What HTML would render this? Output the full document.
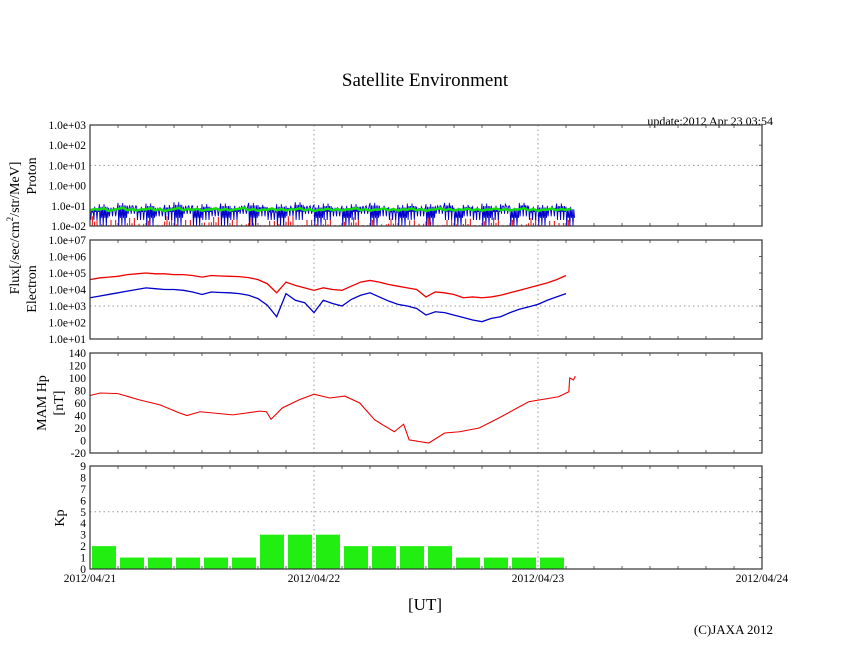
<!DOCTYPE html>
<html><head><meta charset="utf-8"><style>
body{margin:0;background:#fff;}
svg{display:block;font-family:"Liberation Serif",serif;}
</style></head><body>
<svg id="c" width="846" height="655" viewBox="0 0 846 655">
<text x="425" y="86" font-size="19" text-anchor="middle">Satellite Environment</text>
<text x="773" y="125" font-size="12" text-anchor="end">update:2012 Apr 23 03:54</text>
<text transform="translate(19,228) rotate(-90)" font-size="14" text-anchor="middle">Flux[/sec/cm<tspan font-size="9" dy="-6">2</tspan><tspan dy="6">/str/MeV]</tspan></text>
<text transform="translate(36,176) rotate(-90)" font-size="14" text-anchor="middle">Proton</text>
<text transform="translate(36,289) rotate(-90)" font-size="14" text-anchor="middle">Electron</text>
<text transform="translate(46,403) rotate(-90)" font-size="14" text-anchor="middle">MAM Hp</text>
<text transform="translate(63,403) rotate(-90)" font-size="14" text-anchor="middle">[nT]</text>
<text transform="translate(64,518) rotate(-90)" font-size="14" text-anchor="middle">Kp</text>
<text x="425" y="610" font-size="17" text-anchor="middle">[UT]</text>
<text x="773" y="634" font-size="13" text-anchor="end">(C)JAXA 2012</text>
<g id="g"></g>
</svg>
<script>
const dayLabels=["2012/04/21","2012/04/22","2012/04/23","2012/04/24"];
const protonTicks=["1.0e-02","1.0e-01","1.0e+00","1.0e+01","1.0e+02","1.0e+03"];
const electronTicks=["1.0e+01","1.0e+02","1.0e+03","1.0e+04","1.0e+05","1.0e+06","1.0e+07"];
const hpTicks=[-20,0,20,40,60,80,100,120,140];
const kpTicks=[0,1,2,3,4,5,6,7,8,9];
const kpVals=[2,1,1,1,1,1,3,3,3,2,2,2,2,1,1,1,1];
const elecRed=[4.6,4.7,4.75,4.8,4.9,4.95,5.0,4.95,4.95,4.9,4.9,4.85,4.75,4.85,4.82,4.8,4.78,4.72,4.6,4.35,3.8,4.45,4.25,4.1,3.95,4.1,4.0,3.95,4.2,4.45,4.55,4.45,4.3,4.2,4.1,4.0,3.55,3.85,3.8,3.7,3.5,3.55,3.5,3.55,3.65,3.8,3.95,4.1,4.25,4.4,4.6,4.85];
const elecBlue=[3.5,3.6,3.7,3.8,3.9,4.0,4.1,4.05,4.0,4.0,3.95,3.85,3.7,3.85,3.82,3.8,3.75,3.65,3.45,3.05,2.35,3.75,3.35,3.2,2.6,3.35,3.15,3.0,3.4,3.65,3.8,3.55,3.3,3.1,3.0,2.85,2.45,2.65,2.6,2.45,2.3,2.15,2.05,2.25,2.35,2.6,2.8,2.95,3.1,3.35,3.55,3.75];
const hpHours=[0,1.1,3,5.3,7.5,9.6,10.4,11.8,15.3,18.2,18.9,19.4,20.6,22.4,24,25.7,27.3,28.9,30.5,32.6,33.6,34.2,36.3,38,39.6,41.7,43.8,47,50.2,51.3,51.4,51.8,52];
const hpVals=[72,76,75,65,57,44,40,46,41,47,46,34,52,65,74,68,71,60,33,14,26,1,-4,12,14,20,36,62,70,78,100,97,103];
const protonBlueHigh=[0.09,0.12,0.08,0.14,0.1,0.09,0.13,0.08,0.11,0.15,0.09,0.1,0.12,0.08,0.13,0.1,0.09,0.14,0.11,0.08,0.12,0.1,0.15,0.09,0.11,0.13,0.08,0.1,0.12,0.09,0.14,0.1,0.08,0.11,0.13,0.09,0.12,0.1,0.14,0.08,0.11,0.09,0.13,0.1,0.12,0.08,0.14,0.09,0.11,0.1,0.13,0.09];
const protonBlueLow=[0.02,0.01,0.03,0.01,0.04,0.02,0.01,0.03,0.02,0.01,0.04,0.01,0.02,0.03,0.01,0.02,0.04,0.01,0.03,0.02,0.01,0.03,0.02,0.04,0.01,0.02,0.03,0.01,0.02,0.04,0.01,0.03,0.02,0.01,0.02,0.03,0.01,0.04,0.02,0.01,0.03,0.02,0.01,0.02,0.04,0.01,0.03,0.02,0.01,0.03,0.02,0.01];
const protonGreen=[0.06,0.065,0.055,0.07,0.06,0.058,0.066,0.06,0.055,0.068,0.06,0.062,0.057,0.065,0.06,0.058,0.07,0.06,0.056,0.064,0.06,0.058,0.066,0.06,0.055,0.063,0.06,0.058,0.067,0.06,0.057,0.065,0.06,0.058,0.064,0.06,0.056,0.066,0.06,0.058,0.063,0.06,0.057,0.065,0.06,0.058,0.066,0.06,0.056,0.064,0.06,0.062];
const protonRed=[0.03,0.012,0.02,0.011,0.025,0.013,0.018,0.011,0.03,0.012,0.02,0.011,0.015,0.028,0.011,0.02,0.012,0.025,0.011,0.018,0.013,0.03,0.011,0.02,0.012,0.022,0.011,0.016,0.027,0.011,0.02,0.012,0.024,0.011,0.019,0.013,0.03,0.011,0.02,0.012,0.023,0.011,0.017,0.026,0.011,0.02,0.012,0.025,0.011,0.018,0.014,0.02];

const NS="http://www.w3.org/2000/svg";
const G=document.getElementById('g');
const X0=90,X1=762;
const xH=h=>X0+h*(X1-X0)/72;
function el(t,a,p){const e=document.createElementNS(NS,t);for(const k in a)e.setAttribute(k,a[k]);(p||G).appendChild(e);return e;}
const panels=[{t:125,b:226},{t:240,b:339},{t:353,b:453},{t:466,b:569}];
const yP=v=>226-(Math.log10(v)+2)*(101/5);
const yE=l=>339-(l-1)*(99/6);
const yHp=v=>453-(v+20)*(100/160);
const yK=v=>569-v*(103/9);

panels.forEach((p,i)=>{
  [1,2].forEach(d=>{const l=el('line',{x1:xH(d*24),x2:xH(d*24),y1:p.t,y2:p.b,stroke:'#999','stroke-dasharray':'1.5,3'});
    });
  for(let h=3;h<72;h+=3){if(h%24==0)continue;
    el('line',{x1:xH(h),x2:xH(h),y1:p.t,y2:p.t+3,stroke:'#666'});
    el('line',{x1:xH(h),x2:xH(h),y1:p.b,y2:p.b-3,stroke:'#666'});}
});
function hgrid(y){const l=el('line',{x1:X0,x2:X1,y1:y,y2:y,stroke:'#999','stroke-dasharray':'1.5,3'});
  }
hgrid(yP(10));hgrid(yE(3));hgrid(yK(5));

function yLabels(ticks,f,name){ticks.forEach((t,i)=>{const y=f(i,t);
  const tx=el('text',{x:86,y:y+4,'font-size':11.5,'text-anchor':'end'});tx.textContent=t;
  
  el('line',{x1:X1,x2:X1-3,y1:y,y2:y,stroke:'#666'});});}
yLabels(protonTicks,(i)=>yP(Math.pow(10,i-2)),'proton-tick-label');
yLabels(electronTicks,(i)=>yE(i+1),'electron-tick-label');
yLabels(hpTicks,(i,t)=>yHp(t),'hp-tick-label');
yLabels(kpTicks,(i,t)=>yK(t),'kp-tick-label');

// Proton
let d='';protonRed.forEach((v,i)=>{for(let k=0;k<4;k++){const x=xH(i+k*0.25);d+=`M${x},226V${yP(k%2?v:Math.max(0.0102,v*0.55))}`;}});
let pr=el('path',{d:d,stroke:'#e00',fill:'none','stroke-width':1});

d='';protonBlueHigh.forEach((v,i)=>{const lo=Math.max(protonBlueLow[i],0.0101);
  for(let k=0;k<6;k++){const t=i+k/6;const hi=v*(k%3==0?1:0.75);const l2=k%2?Math.max(lo*2.5,0.0101):lo;
    d+=((i||k)?'L':'M')+xH(t)+','+yP(hi)+'L'+xH(t+1/12)+','+yP(l2);}});
let pb=el('path',{d:d,stroke:'#00c',fill:'none','stroke-width':0.9});

d='';protonGreen.forEach((v,i)=>{d+=(i?'L':'M')+xH(i)+','+yP(v)+'L'+xH(i+0.5)+','+yP(v*1.15);});
let pg=el('path',{d:d,stroke:'#1d1','fill':'none','stroke-width':2.5});


function line(arr,fx,fy,color,name,w){let s='';arr.forEach((v,i)=>{s+=(i?'L':'M')+fx(i)+','+fy(v);});
  const p=el('path',{d:s,stroke:color,fill:'none','stroke-width':w||1.3});
  }
line(elecRed,i=>xH(i),yE,'#e00','electron-red-series');
line(elecBlue,i=>xH(i),yE,'#00c','electron-blue-series');
line(hpVals,i=>xH(hpHours[i]),yHp,'#e00','hp-series',1.1);

kpVals.forEach((v,i)=>{const r=el('rect',{x:xH(i*3)+2,y:yK(v),width:xH(3)-X0-4,height:569-yK(v),fill:'#22ee11'});
  });

panels.forEach((p,i)=>{const r=el('rect',{x:X0,y:p.t,width:X1-X0,height:p.b-p.t,fill:'none',stroke:'#333','stroke-width':1.2});
  });
dayLabels.forEach((t,i)=>{const tx=el('text',{x:xH(i*24),y:582,'font-size':11.5,'text-anchor':'middle'});tx.textContent=t;
  });
</script>
</body></html>
